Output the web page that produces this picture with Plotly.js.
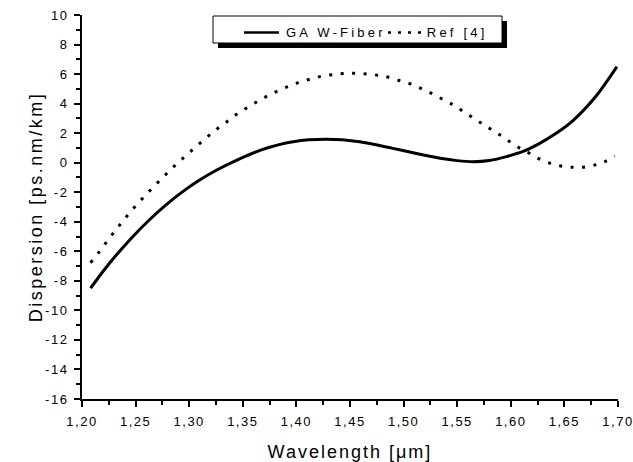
<!DOCTYPE html>
<html>
<head>
<meta charset="utf-8">
<script src="https://cdn.plot.ly/plotly-3.0.1.min.js"></script>
<style>
html,body{margin:0;padding:0;background:#fff;}
#chart{width:633px;height:462px;}
#chart .xtick text, #chart .ytick text{letter-spacing:1.5px;}
#chart .xtitle{letter-spacing:2px;}
#chart .ytitle{letter-spacing:2.5px;}
#chart .annotation-text{letter-spacing:3.2px;}
</style>
</head>
<body>
<div id="chart"></div>
<script>
// GA W-Fiber (solid)
const gaWavelength = [1.208, 1.219, 1.231, 1.246, 1.262, 1.277, 1.293, 1.309, 1.324, 1.346, 1.368, 1.397, 1.428, 1.459, 1.490, 1.512, 1.534, 1.550, 1.565, 1.580, 1.596, 1.612, 1.627, 1.643, 1.658, 1.680, 1.699];
const gaDispersion = [-8.5, -7.42, -6.34, -5.11, -3.93, -2.94, -2.01, -1.21, -0.56, 0.23, 0.89, 1.42, 1.58, 1.42, 0.97, 0.62, 0.30, 0.14, 0.07, 0.15, 0.41, 0.78, 1.31, 2.02, 2.85, 4.55, 6.5];

// Ref [4] (dotted)
const refWavelength = [1.208, 1.2155, 1.223, 1.231, 1.239, 1.2476, 1.2566, 1.266, 1.2756, 1.2855, 1.2958, 1.3057, 1.316, 1.326, 1.336, 1.3455, 1.3555, 1.365, 1.376, 1.386, 1.396, 1.406, 1.4158, 1.4257, 1.436, 1.446, 1.456, 1.466, 1.476, 1.486, 1.4966, 1.5066, 1.516, 1.526, 1.5365, 1.5464, 1.556, 1.5666, 1.5766, 1.5868, 1.5967, 1.607, 1.6163, 1.626, 1.6366, 1.6466, 1.6568, 1.667, 1.677, 1.687, 1.697];
const refDispersion = [-6.77, -6.09, -5.35, -4.6, -3.88, -3.13, -2.41, -1.69, -0.99, -0.27, 0.41, 1.04, 1.69, 2.28, 2.82, 3.34, 3.79, 4.2, 4.63, 4.97, 5.26, 5.53, 5.71, 5.89, 5.98, 6.05, 6.05, 6.0, 5.92, 5.78, 5.55, 5.33, 5.04, 4.7, 4.29, 3.91, 3.45, 2.96, 2.48, 2.03, 1.54, 1.04, 0.68, 0.27, -0.04, -0.22, -0.31, -0.31, -0.18, 0.05, 0.45];

const seriesNames = ["GA W-Fiber", "Ref [4]"];

const xTickVals = [1.20, 1.25, 1.30, 1.35, 1.40, 1.45, 1.50, 1.55, 1.60, 1.65, 1.70];
const xTickText = ["1,20", "1,25", "1,30", "1,35", "1,40", "1,45", "1,50", "1,55", "1,60", "1,65", "1,70"];
const yTickVals = [-16, -14, -12, -10, -8, -6, -4, -2, 0, 2, 4, 6, 8, 10];
const yTickText = ["-16", "-14", "-12", "-10", "-8", "-6", "-4", "-2", "0", "2", "4", "6", "8", "10"];

const font = "Liberation Sans, Arial, sans-serif";
const W = 633, H = 462;
const M = {l: 82, r: 15, t: 15, b: 63};
const PW = W - M.l - M.r, PH = H - M.t - M.b;
const px = v => (v - M.l) / PW;          // pixel x -> paper
const py = v => (H - M.b - v) / PH;      // pixel y -> paper

const traces = [
  {
    x: gaWavelength, y: gaDispersion, name: seriesNames[0], mode: "lines", showlegend: false,
    line: {color: "#000", width: 3, shape: "spline", smoothing: 0.8}
  },
  {
    x: refWavelength, y: refDispersion, name: seriesNames[1], mode: "lines", showlegend: false,
    line: {color: "#000", width: 3, dash: "3px,8.5px", shape: "spline"}
  }
];

const axisCommon = {
  showgrid: false, zeroline: false, showline: true, linecolor: "#000", linewidth: 2,
  ticks: "outside", ticklen: 6, tickwidth: 2, tickcolor: "#000",
  tickfont: {family: font, size: 13, color: "#000"},
  mirror: false
};

// manual legend (box with drop shadow)
const legendShapes = [
  {type: "rect", xref: "paper", yref: "paper", x0: px(218), x1: px(507), y0: py(48), y1: py(21),
   fillcolor: "#000", line: {width: 0}, layer: "above"},
  {type: "rect", xref: "paper", yref: "paper", x0: px(213), x1: px(502), y0: py(43), y1: py(16),
   fillcolor: "#fff", line: {color: "#000", width: 1}, layer: "above"},
  {type: "line", xref: "paper", yref: "paper", x0: px(244), x1: px(279), y0: py(32.5), y1: py(32.5),
   line: {color: "#000", width: 2.5}, layer: "above"},
  {type: "line", xref: "paper", yref: "paper", x0: px(388), x1: px(421), y0: py(32.5), y1: py(32.5),
   line: {color: "#000", width: 2.5, dash: "3px,7px"}, layer: "above"}
];
const legendAnn = [
  {xref: "paper", yref: "paper", x: px(300), y: py(32.5), xanchor: "left", yanchor: "middle",
   text: seriesNames[0], showarrow: false, font: {family: font, size: 13, color: "#000"}},
  {xref: "paper", yref: "paper", x: px(436), y: py(32.5), xanchor: "left", yanchor: "middle",
   text: seriesNames[1], showarrow: false, font: {family: font, size: 13, color: "#000"}}
];

const layout = {
  width: W, height: H,
  margin: M,
  paper_bgcolor: "#fff", plot_bgcolor: "#fff",
  font: {family: font, color: "#000"},
  showlegend: false,
  shapes: legendShapes,
  annotations: legendAnn,
  xaxis: Object.assign({}, axisCommon, {
    range: [1.20, 1.70], tickmode: "array", tickvals: xTickVals, ticktext: xTickText,
    ticklabelstandoff: 3,
    minor: {dtick: 0.025, tick0: 1.2, ticks: "outside", ticklen: 4, tickwidth: 2, tickcolor: "#000"},
    title: {text: "Wavelength [μm]", font: {family: font, size: 18, color: "#000"}, standoff: 20}
  }),
  yaxis: Object.assign({}, axisCommon, {
    range: [-16, 10], tickmode: "array", tickvals: yTickVals, ticktext: yTickText,
    ticklabelstandoff: 3,
    minor: {dtick: 1, tick0: 0, ticks: "outside", ticklen: 4, tickwidth: 2, tickcolor: "#000"},
    title: {text: "Dispersion [ps.nm/km]", font: {family: font, size: 18, color: "#000"}, standoff: 2}
  })
};

Plotly.newPlot("chart", traces, layout, {displayModeBar: false, staticPlot: true});
</script>
</body>
</html>
